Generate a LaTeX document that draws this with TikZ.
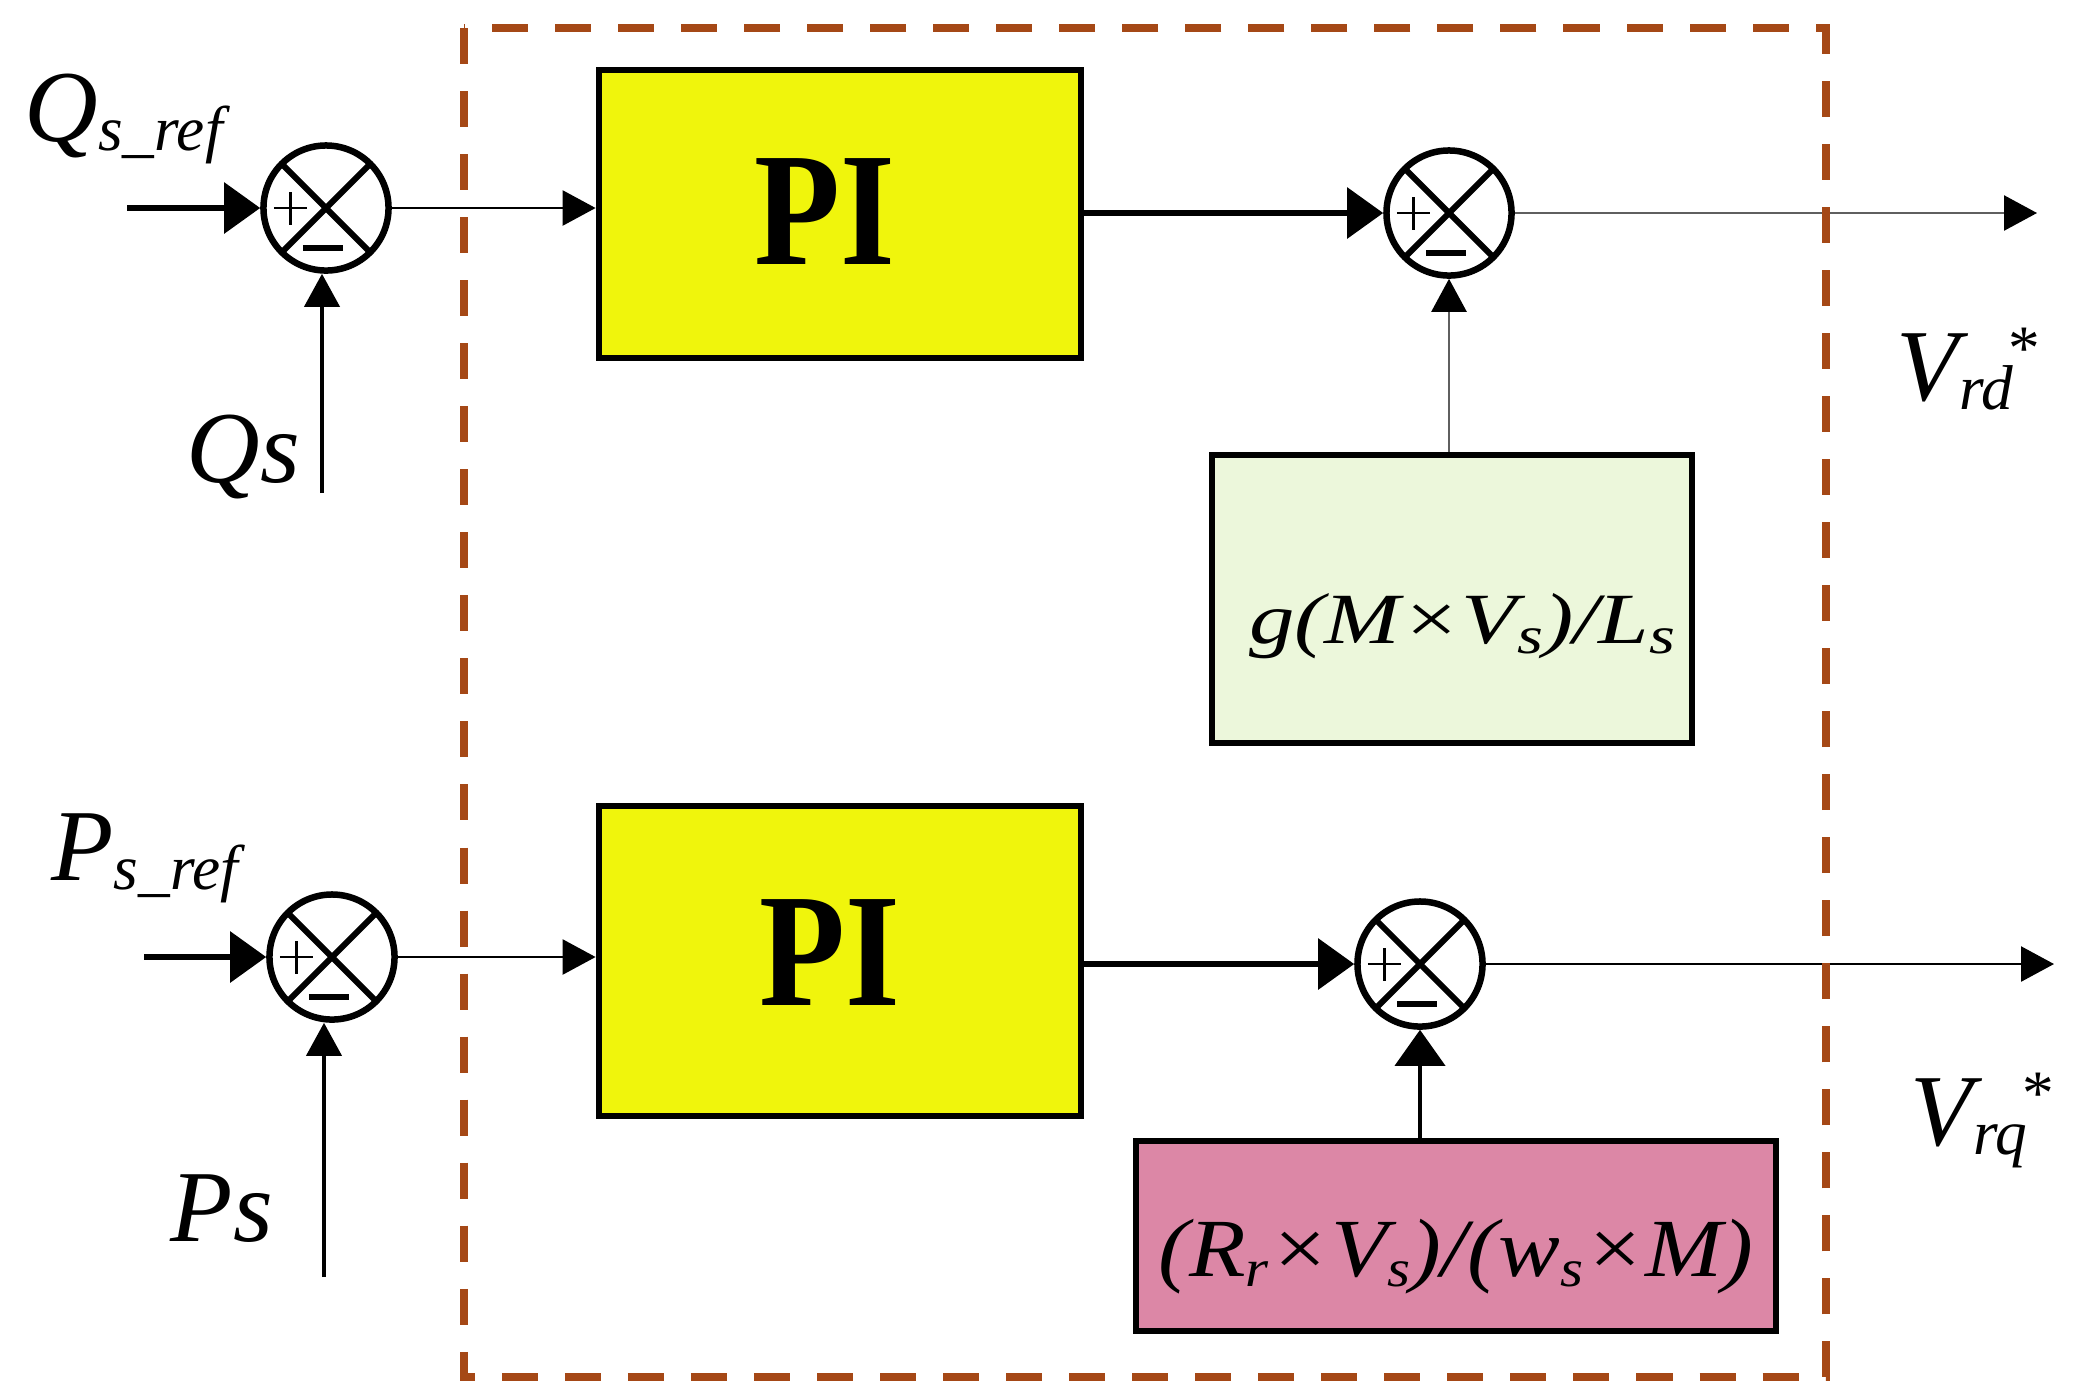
\documentclass[tikz,border=0pt]{standalone}
\usepackage{fontspec}
\usepackage{graphicx}
\setmainfont{Liberation Serif}
\usetikzlibrary{arrows.meta}

\definecolor{piyellow}{RGB}{240,245,12}
\definecolor{gaingreen}{RGB}{236,247,219}
\definecolor{decpink}{RGB}{220,135,166}
\definecolor{framebrown}{RGB}{165,72,22}
\definecolor{wiregray}{RGB}{95,95,95}

\newcommand{\lsub}[1]{\raisebox{-0.09cm}{\fontsize{18}{18}\selectfont\textit{#1}}}
\newcommand{\bsub}[1]{\raisebox{-0.1cm}{\fontsize{15}{15}\selectfont\textit{#1}}}
\newcommand{\lstar}{\raisebox{0.31cm}{\fontsize{18}{18}\selectfont\upshape *}}

\tikzset{
  sumnode/.style={circle, draw, fill=white, line width=0.065cm, minimum size=1.25cm, inner sep=0pt,
    path picture={
      \draw[line width=0.06cm]
        ([shift={(45:0.63cm)}]path picture bounding box.center) -- ([shift={(225:0.63cm)}]path picture bounding box.center)
        ([shift={(135:0.63cm)}]path picture bounding box.center) -- ([shift={(-45:0.63cm)}]path picture bounding box.center);
      \draw[line width=0.022cm]
        ([shift={(-0.52cm,0cm)}]path picture bounding box.center) -- ++(0.33cm,0cm)
        ([shift={(-0.355cm,-0.165cm)}]path picture bounding box.center) -- ++(0cm,0.33cm);
      \draw[line width=0.065cm]
        ([shift={(-0.23cm,-0.40cm)}]path picture bounding box.center) -- ++(0.4cm,0cm);
    }},
  block/.style={draw=black, line width=0.065cm, inner sep=0pt, text depth=0pt},
  piblock/.style={block, fill=piyellow, minimum width=4.82cm, text height=1cm,
    font=\fontsize{46}{46}\selectfont\bfseries},
  wire/.style={line width=0.025cm},
  midwire/.style={line width=0.04cm},
  thickwire/.style={line width=0.06cm},
  bigtip/.style={-{Triangle[length=0.36cm,width=0.5cm,color=black]}},
  smalltip/.style={-{Triangle[length=0.33cm,width=0.35cm,color=black]}},
  lab/.style={anchor=base west, inner sep=0pt, font=\fontsize{29}{29}\selectfont\itshape},
}

\begin{document}
\begin{tikzpicture}[x=0.01cm, y=-0.01cm]
\useasboundingbox (0,0) rectangle (2085,1399);

\node[sumnode] (sumQ) at (326,208) {};
\node[piblock, minimum height=2.88cm] (piQ) at (840,214) {\kern-0.3cm\scalebox{0.87}[1]{PI}};
\node[sumnode] (sumD) at (1449,213) {};
\node[block, fill=gaingreen, minimum width=4.8cm, minimum height=2.88cm, text height=0.88cm,
  font=\fontsize{20.5}{20.5}\selectfont\itshape] (gainD) at (1452,599)
  {\kern0.2cm\scalebox{1.26}[1]{g(M×V\bsub{s})/L\bsub{s}}};

\node[sumnode] (sumP) at (332,957) {};
\node[piblock, minimum height=3.1cm, text height=0.88cm] (piP) at (840,961) {\kern-0.2cm\scalebox{0.87}[1]{PI}};
\node[sumnode] (sumR) at (1420,964) {};
\node[block, fill=decpink, minimum width=6.4cm, minimum height=1.9cm, text height=0.8cm,
  font=\fontsize{23.5}{23.5}\selectfont\itshape] (decR) at (1456,1236)
  {\scalebox{1.12}[1]{(R\bsub{r}×V\bsub{s})/(w\bsub{s}×M)}};

\coordinate (qref) at (127,208);
\coordinate (qs) at (322,493);
\coordinate (dout) at (2037,213);
\coordinate (pref) at (144,957);
\coordinate (ps) at (324,1277);
\coordinate (rout) at (2054,964);

\draw[thickwire, bigtip] (qref) -- (sumQ);
\draw[midwire, smalltip] (qs) -- (qs |- sumQ.south);
\draw[wire, smalltip] (sumQ) -- (sumQ -| piQ.west);
\draw[thickwire, bigtip] (piQ.east |- sumD) -- (sumD);
\draw[wire, wiregray, smalltip] (sumD) -- (dout);
\draw[wire, wiregray, smalltip] (gainD.north -| sumD) -- (sumD);

\draw[thickwire, bigtip] (pref) -- (sumP);
\draw[midwire, smalltip] (ps) -- (ps |- sumP.south);
\draw[wire, smalltip] (sumP) -- (sumP -| piP.west);
\draw[thickwire, bigtip] (piP.east |- sumR) -- (sumR);
\draw[wire, smalltip] (sumR) -- (rout);
\draw[midwire, bigtip] (decR.north -| sumR) -- (sumR);

\draw[framebrown, line width=0.08cm, dash pattern=on 0.36cm off 0.27cm] (464,28) rectangle (1826,1377);

\node[lab] (qsref) at (24,141) {Q\lsub{s\_ref}};
\node[lab] (qsval) at (186,482) {Qs};
\node[lab] (psref) at (51,880) {P\lsub{s\_ref}};
\node[lab] (psval) at (170,1241) {Ps};
\node[lab] (vrd) at (1896,400) {V\lsub{rd}\kern-0.04cm\lstar};
\node[lab] (vrq) at (1910,1145) {V\lsub{rq}\kern-0.04cm\lstar};
\end{tikzpicture}
\end{document}
